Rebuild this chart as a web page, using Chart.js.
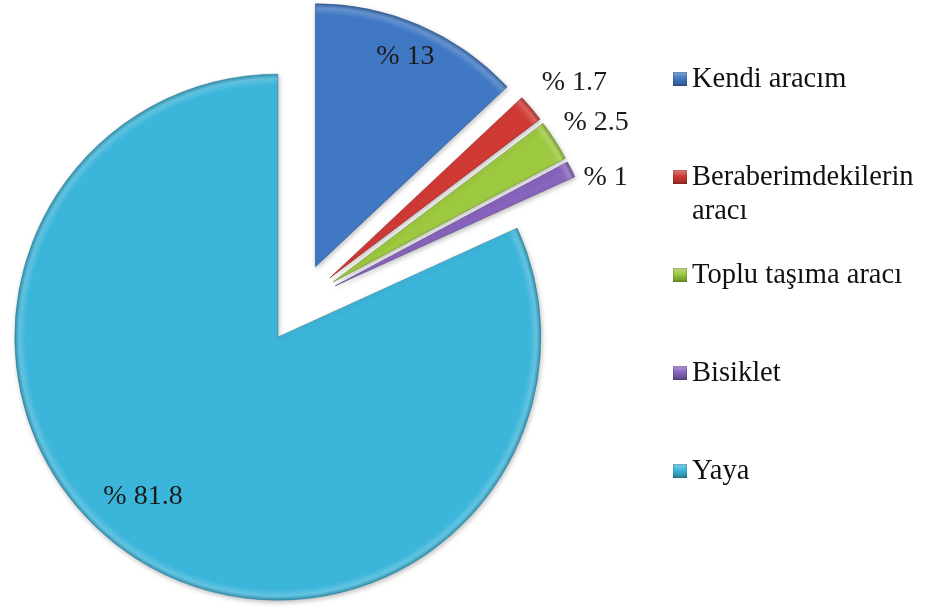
<!DOCTYPE html>
<html>
<head>
<meta charset="utf-8">
<script src="https://cdn.jsdelivr.net/npm/chart.js@4"></script>
<style>
  body { margin: 0; background: #fff; }
  #wrap { position: relative; width: 928px; height: 610px; }
  #legend { position: absolute; left: 673px; top: 61px; font-family: "Liberation Serif", "Times New Roman", serif; font-size: 28.5px; color: #111; }
  .item { height: 98px; display: flex; align-items: flex-start; }
  .box { width: 14px; height: 14px; margin-top: 11px; margin-right: 5px; flex: none; box-shadow: inset 0 0 2px rgba(0,0,0,0.5); }
  .txt { width: 236px; line-height: 34px; }
</style>
</head>
<body>
<div id="wrap">
  <canvas id="pie" width="928" height="610"></canvas>
  <div id="legend"></div>
</div>
<script>
// data
const categories = ["Kendi aracım", "Beraberimdekilerin aracı", "Toplu taşıma aracı", "Bisiklet", "Yaya"];
const percents = [13, 1.7, 2.5, 1, 81.8];
const pctLabels = ["% 13", "% 1.7", "% 2.5", "% 1", "% 81.8"];

// style
const colors = ["#4078c4", "#d03a35", "#9cc93f", "#8764bd", "#3cb5da"];
const explode = 160; // chart.js moves an arc by offset/4
const labelRadius = [0.88, 1.15, 1.15, 1.15, 0.8];
const labelNudge = [[-2, 2], [13, 0], [8, 4], [-1, 26], [-21, -17]];

function shade(hex, amt) {
  let n = parseInt(hex.slice(1), 16);
  let r = (n >> 16) & 255, g = (n >> 8) & 255, b = n & 255;
  const f = v => Math.max(0, Math.min(255, Math.round(amt > 0 ? v + (255 - v) * amt : v * (1 + amt))));
  return "rgb(" + f(r) + "," + f(g) + "," + f(b) + ")";
}

// legend in html so the long name can wrap like the original
const legend = document.getElementById("legend");
categories.forEach((c, i) => {
  const row = document.createElement("div");
  row.className = "item";
  row.innerHTML = '<span class="box" style="background:linear-gradient(' + shade(colors[i], 0.35) + ',' + colors[i] + ' 45%,' + shade(colors[i], -0.3) + ')"></span><span class="txt">' + c + '</span>';
  legend.appendChild(row);
});

// arc.draw grows the radius and trims the angle when offset is set,
// undo that so every slice keeps its real size
const sameRadius = {
  id: "sameRadius",
  afterDatasetUpdate(chart, args) {
    const meta = args.meta;
    const R = meta.controller.outerRadius;
    meta.data.forEach(arc => {
      const circ = arc.endAngle - arc.startAngle;
      const fix = 1 - Math.sin(Math.min(Math.PI, circ));
      const grow = (explode / 4) * fix;
      arc.outerRadius = R - grow;
      const widen = grow / (Math.PI * R) / 2;
      arc.startAngle -= widen;
      arc.endAngle += widen;
    });
  },
  beforeDatasetDraw(chart) {
    const ctx = chart.ctx;
    ctx.save();
    ctx.shadowColor = "rgba(0,0,0,0.25)";
    ctx.shadowBlur = 5;
    ctx.shadowOffsetX = 1;
    ctx.shadowOffsetY = 2;
  },
  afterDatasetDraw(chart) {
    chart.ctx.restore();
  }
};

const pctText = {
  id: "pctText",
  afterDatasetsDraw(chart) {
    const ctx = chart.ctx;
    const meta = chart.getDatasetMeta(0);
    const R = meta.controller.outerRadius;
    ctx.save();
    ctx.font = '28px "Liberation Serif", serif';
    ctx.fillStyle = "#1b1b1b";
    ctx.textAlign = "center";
    ctx.textBaseline = "middle";
    meta.data.forEach((arc, i) => {
      const mid = (arc.startAngle + arc.endAngle) / 2;
      const d = explode / 4 + R * labelRadius[i];
      const x = arc.x + Math.cos(mid) * d + labelNudge[i][0];
      const y = arc.y + Math.sin(mid) * d + labelNudge[i][1];
      ctx.fillText(pctLabels[i], x, y);
    });
    ctx.restore();
  }
};

new Chart(document.getElementById("pie").getContext("2d"), {
  type: "pie",
  data: {
    labels: categories,
    datasets: [{
      data: percents,
      backgroundColor: function (c) {
        const base = colors[c.dataIndex];
        const area = c.chart.chartArea;
        if (!area) return base;
        const cx = (area.left + area.right) / 2, cy = (area.top + area.bottom) / 2;
        const g = c.chart.ctx.createRadialGradient(cx, cy, 0, cx, cy, 264);
        g.addColorStop(0, base);
        g.addColorStop(0.955, base);
        g.addColorStop(0.98, shade(base, 0.2));
        g.addColorStop(1, shade(base, -0.25));
        return g;
      },
      borderColor: colors.map(c => shade(c, -0.3)),
      borderWidth: 0.6,
      offset: explode,
      radius: 263,
      clip: false
    }]
  },
  options: {
    responsive: false,
    animation: false,
    events: [],
    layout: { padding: { left: 0, right: 329, top: 0, bottom: 3 } },
    plugins: { legend: { display: false }, tooltip: { enabled: false } }
  },
  plugins: [sameRadius, pctText]
});
</script>
</body>
</html>
